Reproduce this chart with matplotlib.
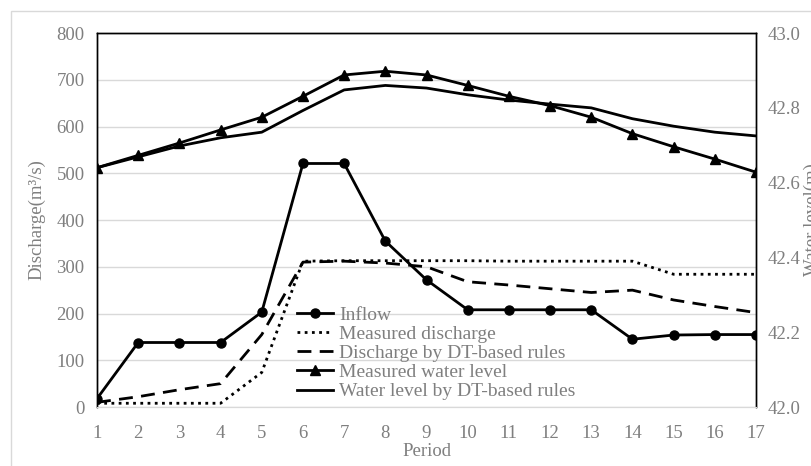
import matplotlib.pyplot as plt
from matplotlib.patches import Rectangle

plt.rcParams['font.family'] = ['Liberation Serif', 'DejaVu Serif']

GRAY = '#7f7f7f'

period = list(range(1, 18))
inflow = [18, 138, 138, 138, 203, 521, 521, 355, 272, 208, 208, 208, 208, 145, 154, 155, 155]
measured_q = [8, 8, 8, 8, 74, 312, 313, 313, 313, 313, 312, 312, 312, 312, 284, 284, 284]
dt_q = [10, 22, 37, 50, 155, 310, 312, 308, 300, 268, 261, 253, 245, 250, 229, 215, 202]
measured_wl = [42.640, 42.673, 42.706, 42.741, 42.775, 42.831, 42.888, 42.898, 42.888,
               42.860, 42.831, 42.806, 42.775, 42.731, 42.696, 42.663, 42.628]
dt_wl = [42.640, 42.669, 42.698, 42.720, 42.735, 42.793, 42.848, 42.860, 42.853,
         42.835, 42.821, 42.810, 42.800, 42.771, 42.751, 42.735, 42.725]

fig = plt.figure(figsize=(8.12, 4.66), dpi=100)
ax = fig.add_axes([0.1195, 0.1266, 0.8115, 0.8024])
ax2 = ax.twinx()

# light outer frame like the Excel chart area
fig.patches.append(Rectangle((11 / 812, -0.1), 1.2, 1 - 11 / 466 + 0.1, transform=fig.transFigure,
                             fill=False, edgecolor='#d9d9d9', lw=1.0))

lw = 2.0
l1, = ax.plot(period, inflow, color='black', lw=lw, marker='o', ms=6.5, label='Inflow')
l2, = ax.plot(period, measured_q, color='black', lw=lw, ls=(0, (1, 1.6)), label='Measured discharge')
l3, = ax.plot(period, dt_q, color='black', lw=lw, ls=(0, (5, 3)), label='Discharge by DT-based rules')
l4, = ax2.plot(period, measured_wl, color='black', lw=lw, marker='^', ms=7.5, label='Measured water level')
l5, = ax2.plot(period, dt_wl, color='black', lw=lw, label='Water level by DT-based rules')

ax.set_xlim(1, 17)
ax.set_ylim(0, 800)
ax2.set_ylim(42.0, 43.0)
ax.set_xticks(period)
ax.set_xticks([6, 11, 16], minor=True)
ax.set_yticks(range(0, 801, 100))
ax2.set_yticks([42.0, 42.2, 42.4, 42.6, 42.8, 43.0])
ax2.set_yticklabels(['42.0', '42.2', '42.4', '42.6', '42.8', '43.0'])

ax.grid(axis='y', color='#d9d9d9', lw=1.0)
ax.set_axisbelow(True)

fs = 13.5
ax.tick_params(axis='x', which='major', length=0, labelsize=fs, labelcolor=GRAY, pad=13)
ax.tick_params(axis='x', which='minor', direction='in', length=6, color='#d9d9d9')
ax.tick_params(axis='y', length=0, labelsize=fs, labelcolor=GRAY, pad=9)
ax2.tick_params(axis='y', length=0, labelsize=fs, labelcolor=GRAY, pad=8.5)

for a in (ax, ax2):
    for s in ('left', 'top', 'right'):
        a.spines[s].set_color('black')
        a.spines[s].set_linewidth(1.0)
    a.spines['bottom'].set_color('#d9d9d9')

ax.set_xlabel('Period', fontsize=fs, color=GRAY, labelpad=1)
ax.set_ylabel('Discharge(m³/s)', fontsize=fs, color=GRAY, labelpad=8)
ax2.set_ylabel('Water level(m)', fontsize=fs, color=GRAY, labelpad=2, rotation=90)

ax2.legend(handles=[l1, l2, l3, l4, l5], loc='upper left', bbox_to_anchor=(0.303, 0.27),
           frameon=False, fontsize=14, labelcolor=GRAY, handlelength=1.85,
           handletextpad=0.35, labelspacing=0.08, borderpad=0, borderaxespad=0)

fig.savefig('out.png', dpi=100)
